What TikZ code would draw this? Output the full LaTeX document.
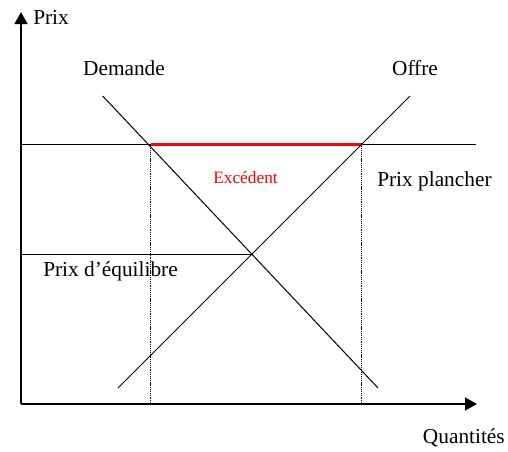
\documentclass[tikz,border=0pt]{standalone}
\usepackage{fontspec}
\setmainfont{Liberation Serif}
\usetikzlibrary{arrows.meta}
\begin{document}
\begin{tikzpicture}[x=0.75pt,y=-0.75pt,
  lbl/.style={inner sep=0pt,font=\fontsize{16}{19}\selectfont},
  axis/.style={line width=2pt,-{Triangle[length=9pt,width=9.5pt]}},
  curve/.style={line width=0.75pt},
  guide/.style={line width=1.4pt,dash pattern=on 0.8pt off 0.6pt}]
\useasboundingbox (0,0) rectangle (508,451);
% axes
\coordinate (O) at (21,404);
\coordinate (Ytop) at (21,12);
\coordinate (Xend) at (477,404);
\draw[axis] (O) -- (Ytop);
\draw[axis] (O) -- (Xend);
% floor price line
\coordinate (Pl) at (21,144.5);
\coordinate (Pr) at (476,144.5);
\coordinate (A) at (150.5,144.5);
\coordinate (B) at (361.5,144.5);
\draw[curve] (Pl) -- (Pr);
\draw[red,line width=1.7pt] (A) -- (B);
% demand and supply
\coordinate (D1) at (102.7,96);
\coordinate (D2) at (378,388);
\coordinate (S1) at (118,388);
\coordinate (S2) at (410,96);
\draw[curve] (D1) -- (D2);
\draw[curve] (S1) -- (S2);
% equilibrium price line
\coordinate (El) at (21,254);
\coordinate (E) at (252.5,254);
\draw[curve] (El) -- (E);
% dotted verticals
\coordinate (Ab) at (150.5,404);
\coordinate (Bb) at (361.5,404);
\draw[guide] (A) -- (Ab);
\draw[guide] (B) -- (Bb);
% labels
\node[lbl,anchor=west] (prix) at (33,17) {Prix};
\node[lbl] (dem) at (124,68) {Demande};
\node[lbl] (off) at (415,68) {Offre};
\node[lbl,anchor=west] (plancher) at (377,181) {Prix plancher};
\node[lbl,anchor=west] (equi) at (43,271) {Prix d’équilibre};
\node[inner sep=0pt,font=\fontsize{13}{15}\selectfont,text=red] (exc) at (245.5,178) {Excédent};
\node[lbl,anchor=east] (qte) at (505,438) {Quantités};
\end{tikzpicture}
\end{document}
